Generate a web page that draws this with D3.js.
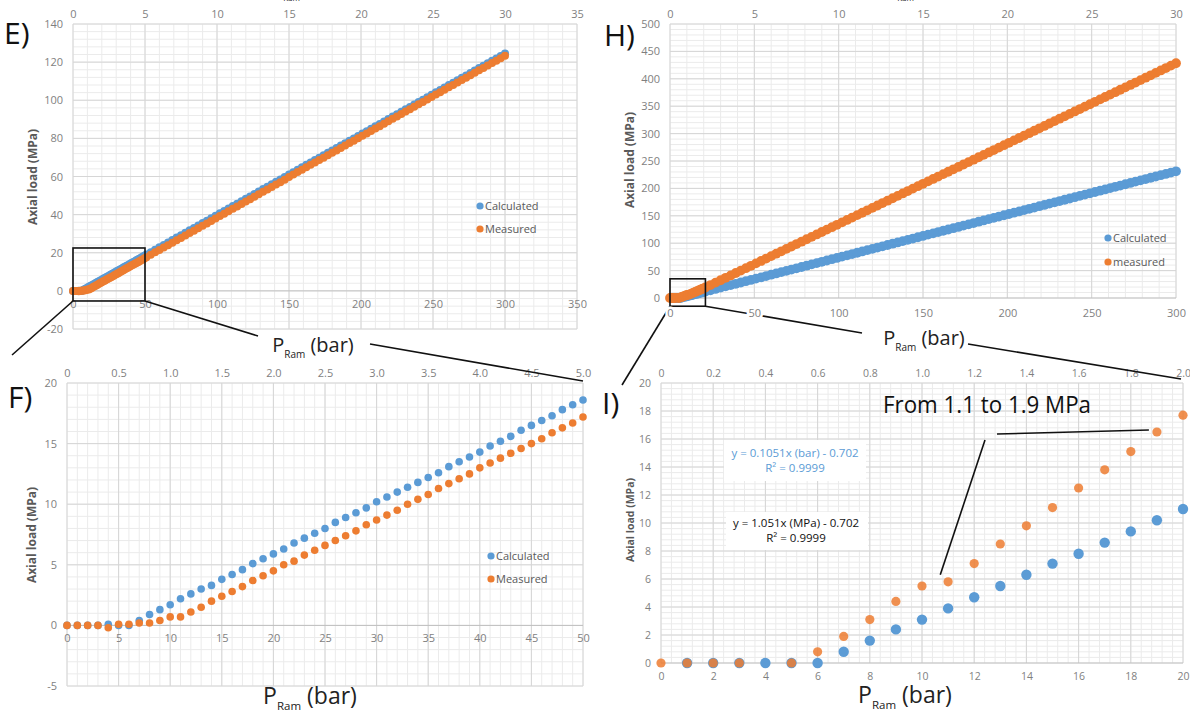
<!DOCTYPE html>
<html><head><meta charset="utf-8">
<script src="https://cdn.jsdelivr.net/npm/d3@7"></script>
<style>body{margin:0;background:#fff}text{font-family:"Open Sans",sans-serif}</style>
</head><body><svg id="c" width="1190" height="715"></svg>
<script>
const BLUE = "#5B9BD5", ORANGE = "#ED7D31";

// ---------- Panel F (and start of E): P_Ram 0..50 bar, step 1 ----------
const fX = [0,1,2,3,4,5,6,7,8,9,10,11,12,13,14,15,16,17,18,19,20,21,22,23,24,25,26,27,28,29,30,31,32,33,34,35,36,37,38,39,40,41,42,43,44,45,46,47,48,49,50];
const fCalc = [0,0,0,0,0.1,0,0,0.4,0.9,1.3,1.7,2.2,2.6,3.0,3.3,3.8,4.2,4.6,5.1,5.5,5.9,6.3,6.8,7.2,7.6,8.0,8.5,8.9,9.3,9.7,10.2,10.6,11.0,11.4,11.8,12.2,12.6,13.1,13.5,13.9,14.3,14.8,15.2,15.6,16.1,16.5,16.9,17.3,17.8,18.2,18.6];
const fMeas = [0,0,0,0,-0.2,0.1,0.1,0.2,0.2,0.4,0.7,0.7,1.1,1.5,2.0,2.4,2.8,3.2,3.7,4.1,4.5,5.0,5.3,5.8,6.2,6.6,7.0,7.4,7.8,8.3,8.7,9.1,9.5,10.0,10.4,10.8,11.3,11.7,12.1,12.5,13.0,13.4,13.8,14.2,14.6,15.0,15.4,15.9,16.3,16.7,17.2];

// ---------- Panel E tail: 51..300 bar ----------
const eTailX = [51,54,57,60,63,66,69,72,75,78,81,84,87,90,93,96,99,102,105,108,111,114,117,120,123,126,129,132,135,138,141,144,147,150,153,156,159,162,165,168,171,174,177,180,183,186,189,192,195,198,201,204,207,210,213,216,219,222,225,228,231,234,237,240,243,246,249,252,255,258,261,264,267,270,273,276,279,282,285,288,291,294,297,300];
const eTailCalc = [19.1,20.3,21.6,22.9,24.1,25.4,26.7,28.0,29.2,30.5,31.8,33.0,34.3,35.6,36.8,38.1,39.4,40.7,41.9,43.2,44.5,45.7,47.0,48.3,49.5,50.8,52.1,53.4,54.6,55.9,57.2,58.4,59.7,61.0,62.2,63.5,64.8,66.1,67.3,68.6,69.9,71.1,72.4,73.7,74.9,76.2,77.5,78.8,80.0,81.3,82.6,83.8,85.1,86.4,87.6,88.9,90.2,91.5,92.7,94.0,95.3,96.5,97.8,99.1,100.3,101.6,102.9,104.2,105.4,106.7,108.0,109.2,110.5,111.8,113.0,114.3,115.6,116.9,118.1,119.4,120.7,121.9,123.2,124.5];
const eTailMeas = [17.7,18.9,20.2,21.5,22.7,24.0,25.3,26.6,27.8,29.1,30.4,31.6,32.9,34.2,35.4,36.7,38.0,39.3,40.5,41.8,43.1,44.3,45.6,46.9,48.1,49.4,50.7,52.0,53.2,54.5,55.8,57.0,58.3,59.8,61.0,62.3,63.6,64.9,66.1,67.4,68.7,69.9,71.2,72.5,73.7,75.0,76.3,77.6,78.8,80.1,81.4,82.6,83.9,85.2,86.4,87.7,89.0,90.3,91.5,92.8,94.1,95.3,96.6,97.9,99.1,100.4,101.7,103.0,104.2,105.5,106.8,108.0,109.3,110.6,111.8,113.1,114.4,115.7,116.9,118.2,119.5,120.7,122.0,123.3];

// ---------- Panel I (and start of H): 0..20 bar ----------
const iX = [0,1,2,3,4,5,6,7,8,9,10,11,12,13,14,15,16,17,18,19,20];
const iCalc = [null,0,0,0,0,0,0,0.8,1.6,2.4,3.1,3.9,4.7,5.5,6.3,7.1,7.8,8.6,9.4,10.2,11.0];
const iMeas = [0,0,0,0,null,0,0.8,1.9,3.1,4.4,5.5,5.8,7.1,8.5,9.8,11.1,12.5,13.8,15.1,16.5,17.7];

// ---------- Panel H tail: 21..300 bar ----------
const hTailX = [21,24,27,30,33,36,39,42,45,48,51,54,57,60,63,66,69,72,75,78,81,84,87,90,93,96,99,102,105,108,111,114,117,120,123,126,129,132,135,138,141,144,147,150,153,156,159,162,165,168,171,174,177,180,183,186,189,192,195,198,201,204,207,210,213,216,219,222,225,228,231,234,237,240,243,246,249,252,255,258,261,264,267,270,273,276,279,282,285,288,291,294,297,300];
const hTailCalc = [11.8,14.1,16.5,18.9,21.2,23.6,25.9,28.3,30.7,33.0,35.4,37.7,40.1,42.5,44.8,47.2,49.5,51.9,54.2,56.6,59.0,61.3,63.7,66.0,68.4,70.8,73.1,75.5,77.8,80.2,82.6,84.9,87.3,89.6,92.0,94.3,96.7,99.1,101.4,103.8,106.1,108.5,110.9,113.2,115.6,117.9,120.3,122.7,125.0,127.4,129.7,132.1,134.4,136.8,139.2,141.5,143.9,146.2,148.6,151.0,153.3,155.7,158.0,160.4,162.8,165.1,167.5,169.8,172.2,174.5,176.9,179.3,181.6,184.0,186.3,188.7,191.1,193.4,195.8,198.1,200.5,202.9,205.2,207.6,209.9,212.3,214.6,217.0,219.4,221.7,224.1,226.4,228.8,231.2];
const hTailMeas = [19.3,23.6,28.0,32.4,36.8,41.2,45.6,50.0,54.4,58.8,63.2,67.6,72.0,76.4,80.8,85.2,89.6,94.0,98.4,102.8,107.2,111.6,116.0,120.4,124.8,129.2,133.6,138.0,142.4,146.8,151.2,155.6,160.0,164.4,168.8,173.2,177.6,182.0,186.4,190.8,195.2,199.6,204.0,208.4,212.8,217.2,221.6,226.0,230.4,234.8,239.2,243.6,248.0,252.4,256.8,261.2,265.6,270.0,274.4,278.8,283.2,287.6,292.0,296.4,300.8,305.2,309.6,314.0,318.4,322.8,327.2,331.6,336.0,340.4,344.8,349.2,353.6,358.0,362.4,366.8,371.2,375.6,380.0,384.4,388.8,393.2,397.6,402.0,406.4,410.8,415.2,419.6,424.0,428.4];

// tick label lists
const eBottomTicks = [0,50,100,150,200,250,300,350];
const eTopTicks = [0,5,10,15,20,25,30,35];
const eLeftTicks = [-20,0,20,40,60,80,100,120,140];
const hBottomTicks = [0,50,100,150,200,250,300];
const hTopTicks = [0,5,10,15,20,25,30];
const hLeftTicks = [0,50,100,150,200,250,300,350,400,450,500];
const fBottomTicks = [0,5,10,15,20,25,30,35,40,45,50];
const fTopTicks = [0,0.5,1.0,1.5,2.0,2.5,3.0,3.5,4.0,4.5,5.0];
const fLeftTicks = [-5,0,5,10,15,20];
const iBottomTicks = [0,2,4,6,8,10,12,14,16,18,20];
const iTopTicks = [0,0.2,0.4,0.6,0.8,1.0,1.2,1.4,1.6,1.8,2.0];
const iLeftTicks = [0,2,4,6,8,10,12,14,16,18,20];

const zip = (xs, ys) => xs.map((x, i) => ({x, y: ys[i]})).filter(d => d.y !== null);
const eCalc = zip(fX.concat(eTailX), fCalc.concat(eTailCalc));
const eMeas = zip(fX.concat(eTailX), fMeas.concat(eTailMeas));
const hCalc = zip(iX.concat(hTailX), iCalc.concat(hTailCalc));
const hMeas = zip(iX.concat(hTailX), iMeas.concat(hTailMeas));

const svg = d3.select("#c");
const TICK = "#7f7f7f", TITLE = "#595959";
const intFmt = d => String(d);

function panel(o) {
  const x = d3.scaleLinear().domain(o.xDom).range([o.l, o.r]);
  const y = d3.scaleLinear().domain(o.yDom).range([o.b, o.t]);
  const xt = d3.scaleLinear().domain(o.topDom).range([o.l, o.r]);
  const g = svg.append("g");
  const eps = 1e-9;
  const gx = d3.range(o.xDom[0], o.xDom[1] + eps, o.xMinor);
  const gy = d3.range(o.yDom[0], o.yDom[1] + eps, o.yMinor);
  g.selectAll(".mx").data(gx).join("line").attr("x1", d => x(d)).attr("x2", d => x(d))
    .attr("y1", o.t).attr("y2", o.b).attr("stroke", "#ebebeb").attr("stroke-width", 1);
  g.selectAll(".my").data(gy).join("line").attr("y1", d => y(d)).attr("y2", d => y(d))
    .attr("x1", o.l).attr("x2", o.r).attr("stroke", "#ebebeb").attr("stroke-width", 1);
  g.selectAll(".Mx").data(o.bottomTicks).join("line").attr("x1", d => x(d)).attr("x2", d => x(d))
    .attr("y1", o.t).attr("y2", o.b).attr("stroke", "#d6d6d6").attr("stroke-width", 1);
  g.selectAll(".My").data(o.leftTicks).join("line").attr("y1", d => y(d)).attr("y2", d => y(d))
    .attr("x1", o.l).attr("x2", o.r).attr("stroke", d => d === 0 ? "#bfbfbf" : "#d6d6d6").attr("stroke-width", 1);

  // axes
  const fs = o.tickFs || 11;
  const ax0 = y(0);
  const bottom = svg.append("g").attr("transform", `translate(0,${ax0})`)
    .call(d3.axisBottom(x).tickValues(o.bottomTicks).tickSize(0).tickPadding(o.bPad || 9).tickFormat(intFmt));
  const top = svg.append("g").attr("transform", `translate(0,${o.t})`)
    .call(d3.axisTop(xt).tickValues(o.topTicks).tickSize(0).tickPadding(o.tPad || 6).tickFormat(o.topFmt));
  const left = svg.append("g").attr("transform", `translate(${o.l},0)`)
    .call(d3.axisLeft(y).tickValues(o.leftTicks).tickSize(0).tickPadding(o.lPad || 10).tickFormat(intFmt));
  [bottom, top, left].forEach(a => {
    a.select(".domain").remove();
    a.selectAll("text").attr("fill", TICK).style("font-size", fs + "px").style("font-family", "'Open Sans',sans-serif");
  });
  if (o.halo) bottom.selectAll("text").attr("stroke", "#fff").attr("stroke-width", 5).attr("paint-order", "stroke");

  // series
  const sg = svg.append("g");
  sg.selectAll(".c").data(o.calc).join("circle").attr("cx", d => x(d.x)).attr("cy", d => y(d.y))
    .attr("r", o.rc).attr("fill", BLUE);
  sg.selectAll(".m").data(o.meas).join("circle").attr("cx", d => x(d.x)).attr("cy", d => y(d.y))
    .attr("r", o.rm).attr("fill", ORANGE).attr("fill-opacity", o.mOp || 1);

  // legend
  if (o.legend) {
    o.legend.forEach((L, i) => {
      const ly = o.legY + i * o.legGap;
      svg.append("circle").attr("cx", o.legX).attr("cy", ly).attr("r", 3.6).attr("fill", L[1]);
      svg.append("text").attr("x", o.legX + 5).attr("y", ly + 4).text(L[0])
        .attr("fill", TITLE).style("font-size", "11px").style("font-family", "'Open Sans',sans-serif");
    });
  }
  // y title
  svg.append("text").attr("transform", `translate(${o.yTitleX},${o.yTitleY}) rotate(-90)`)
    .attr("text-anchor", "middle").attr("fill", TITLE).style("font-weight", "bold")
    .style("font-size", (o.yTitleFs || 12) + "px").text("Axial load (MPa)");
  // panel letter
  svg.append("text").attr("x", o.letX).attr("y", o.letY).text(o.letter)
    .style("font-size", "30px").attr("fill", "#111");
  return {x, y, bottom};
}

function pram(xc, yb, fs, unit, w) {
  const t = svg.append("text").attr("x", xc).attr("y", yb).attr("text-anchor", "middle")
    .attr("fill", "#222").style("font-size", fs + "px");
  t.append("tspan").text("P");
  t.append("tspan").text("Ram").style("font-size", (fs * 0.5) + "px").attr("dy", fs * 0.28);
  t.append("tspan").text(" (" + unit + ")").attr("dy", -fs * 0.28);
  if (w) t.attr("textLength", w).attr("lengthAdjust", "spacingAndGlyphs");
  return t;
}

const fmt1 = d => d === 0 ? "0" : d3.format(".1f")(d);

const E = panel({l: 73, r: 577, t: 24, b: 329, xDom: [0, 350], yDom: [-20, 140], topDom: [0, 35],
  xMinor: 10, yMinor: 4, bottomTicks: eBottomTicks, topTicks: eTopTicks, leftTicks: eLeftTicks,
  topFmt: intFmt, calc: eCalc, meas: eMeas, rc: 4, rm: 4, bPad: 9,
  legend: [["Calculated", BLUE], ["Measured", ORANGE]], legX: 480, legY: 206, legGap: 23,
  yTitleX: 37, yTitleY: 177, letter: "E)", letX: 4, letY: 44});

const H = panel({l: 670, r: 1176, t: 24, b: 298, xDom: [0, 300], yDom: [0, 500], topDom: [0, 30],
  xMinor: 10, yMinor: 10, bottomTicks: hBottomTicks, topTicks: hTopTicks, leftTicks: hLeftTicks,
  topFmt: intFmt, calc: hCalc, meas: hMeas, rc: 4.9, rm: 4.9, bPad: 11, halo: true,
  legend: [["Calculated", BLUE], ["measured", ORANGE]], legX: 1108, legY: 238, legGap: 24,
  yTitleX: 634, yTitleY: 160, letter: "H)", letX: 604, letY: 46});

const F = panel({l: 67, r: 583, t: 383, b: 686, xDom: [0, 50], yDom: [-5, 20], topDom: [0, 5],
  xMinor: 1, yMinor: 1, bottomTicks: fBottomTicks, topTicks: fTopTicks, leftTicks: fLeftTicks,
  topFmt: fmt1, calc: zip(fX, fCalc), meas: zip(fX, fMeas), rc: 3.8, rm: 3.8, bPad: 9,
  legend: [["Calculated", BLUE], ["Measured", ORANGE]], legX: 491, legY: 556, legGap: 23,
  yTitleX: 36, yTitleY: 535, letter: "F)", letX: 8, letY: 408});

const I = panel({l: 661, r: 1183, t: 383, b: 663, xDom: [0, 20], yDom: [0, 20], topDom: [0, 2],
  xMinor: 0.4, yMinor: 0.4, bottomTicks: iBottomTicks, topTicks: iTopTicks, leftTicks: iLeftTicks,
  topFmt: fmt1, calc: zip(iX, iCalc), meas: zip(iX, iMeas), rc: 5.2, rm: 4.6, mOp: 0.85, bPad: 10,
  tickFs: 10.5, yTitleX: 634, yTitleY: 520, yTitleFs: 10.5, letter: "I)", letX: 602, letY: 414});

// zoom boxes and connector lines (drawn above the plots)
const gLines = svg.append("g");
const line = (x1, y1, x2, y2) => gLines.append("line").attr("x1", x1).attr("y1", y1).attr("x2", x2).attr("y2", y2)
  .attr("stroke", "#111").attr("stroke-width", 1.6);
gLines.append("rect").attr("x", E.x(0)).attr("y", E.y(22.5)).attr("width", E.x(50) - E.x(0)).attr("height", E.y(-5.3) - E.y(22.5))
  .attr("fill", "none").attr("stroke", "#111").attr("stroke-width", 1.6);
line(E.x(0), E.y(-5.3), 12, 355);
line(E.x(50), E.y(-5.3), 258, 336);
line(370, 344, F.x(50), F.y(20) - 2);
gLines.append("rect").attr("x", H.x(0)).attr("y", H.y(35)).attr("width", H.x(21) - H.x(0)).attr("height", H.y(-15) - H.y(35))
  .attr("fill", "none").attr("stroke", "#111").attr("stroke-width", 1.6);
line(H.x(0), H.y(-15), 622, 385);
line(H.x(21), H.y(-15), 862, 333);
line(968, 344, I.x(20) - 2, I.y(20) - 4);
H.bottom.raise();

// axis titles
pram(313, 352, 20, "bar");
pram(924, 345, 20, "bar");
pram(310, 704, 23, "bar");
pram(905, 703, 23, "bar");
pram(310, -3, 16, "MPa");
pram(924, -3, 16, "MPa");

// Panel I annotations
svg.append("rect").attr("x", 724).attr("y", 440).attr("width", 142).attr("height", 41).attr("fill", "#fff");
svg.append("rect").attr("x", 726).attr("y", 512).attr("width", 142).attr("height", 38).attr("fill", "#fff");
const note = (t, xx, yy, c) => svg.append("text").attr("x", xx).attr("y", yy).attr("text-anchor", "middle")
  .attr("fill", c).style("font-size", "11.5px").text(t);
note("y = 0.1051x (bar) - 0.702", 795, 457, BLUE);
note("R² = 0.9999", 795, 472, BLUE);
note("y = 1.051x (MPa) - 0.702", 796, 527, "#111");
note("R² = 0.9999", 796, 542, "#111");
svg.append("text").attr("x", 883).attr("y", 413).text("From 1.1 to 1.9 MPa").attr("fill", "#111")
  .style("font-size", "24px").attr("textLength", 208).attr("lengthAdjust", "spacingAndGlyphs");
const l7 = svg.append("g");
l7.append("line").attr("x1", 997).attr("y1", 434).attr("x2", I.x(19) - 8).attr("y2", I.y(16.5) - 2).attr("stroke", "#111").attr("stroke-width", 1.6);
l7.append("line").attr("x1", 985).attr("y1", 440).attr("x2", I.x(10.7)).attr("y2", I.y(6.3)).attr("stroke", "#111").attr("stroke-width", 1.6);
</script></body></html>
